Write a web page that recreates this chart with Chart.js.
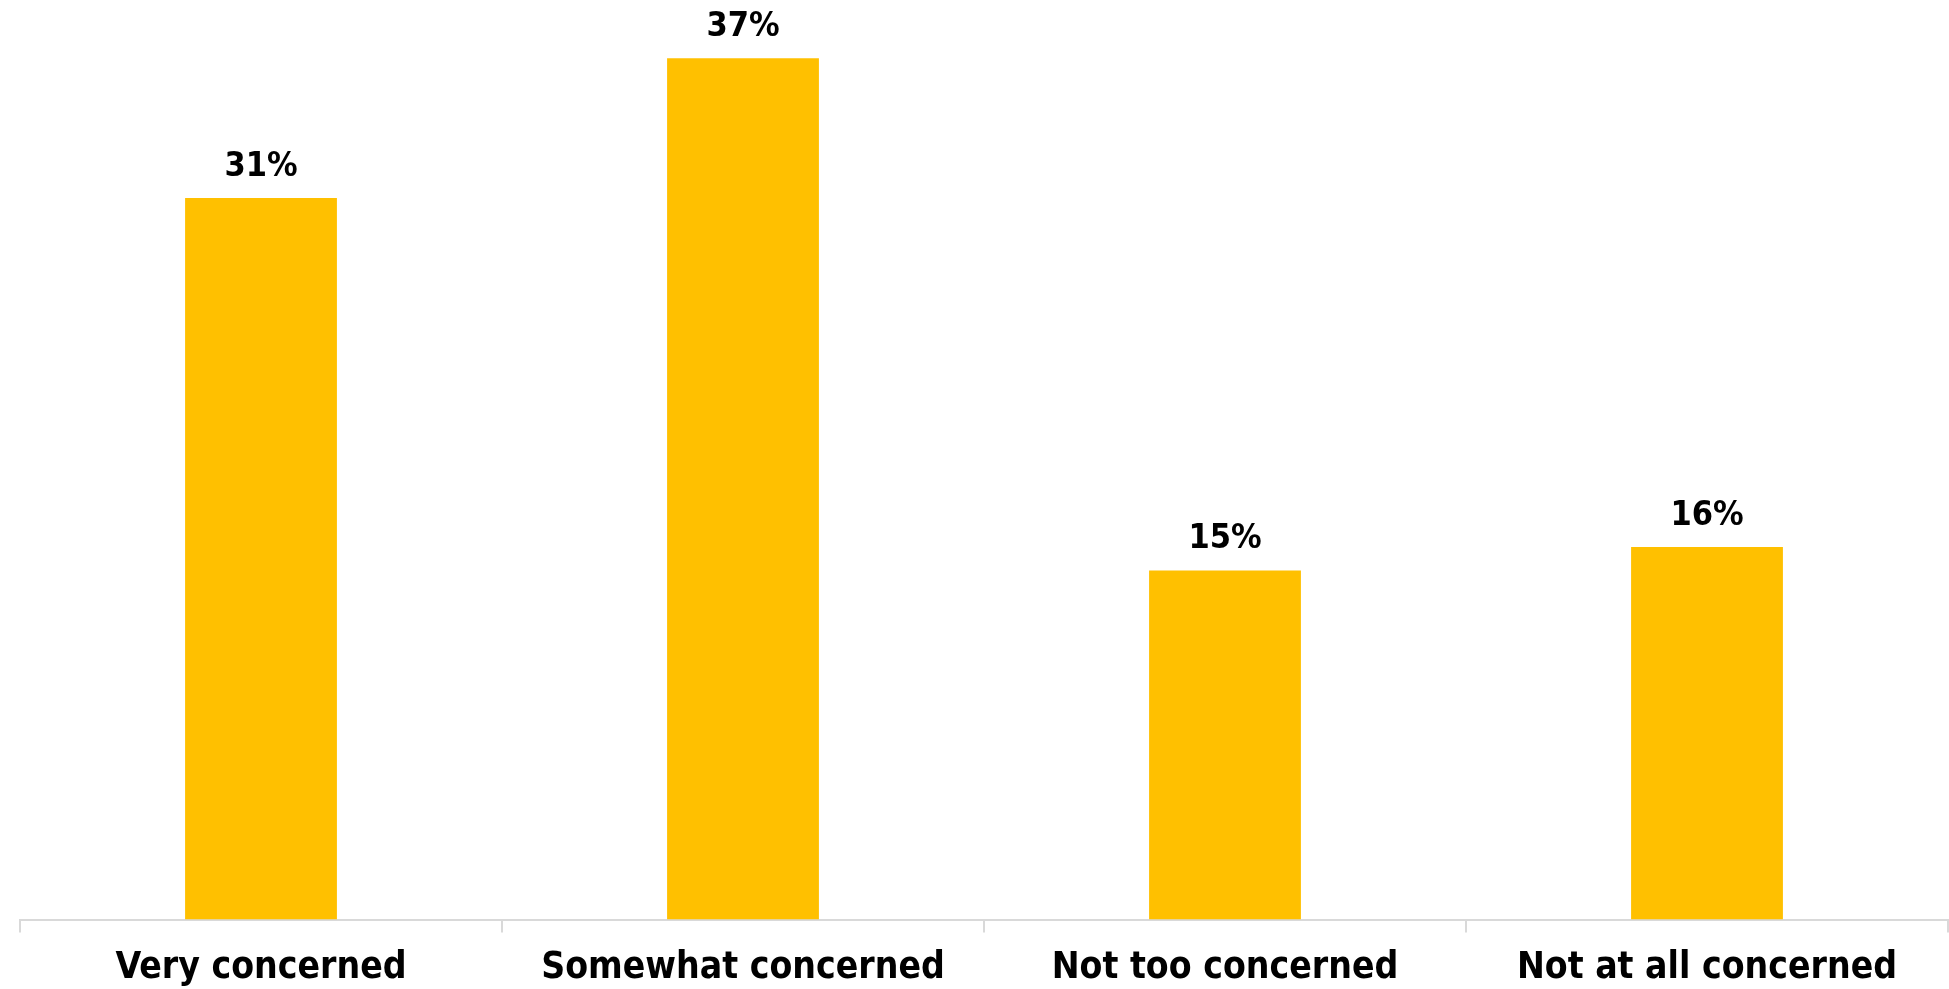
<!DOCTYPE html>
<html>
<head>
<meta charset="utf-8">
<script src="https://cdn.jsdelivr.net/npm/chart.js@4.4.1/dist/chart.umd.min.js"></script>
<style>
  html, body { margin: 0; padding: 0; background: #fff; }
  #wrap { width: 1949px; height: 989px; }
</style>
</head>
<body>
<div id="wrap"><canvas id="chart" width="1949" height="989"></canvas></div>
<script>
const categories = ["Very concerned", "Somewhat concerned", "Not too concerned", "Not at all concerned"];
const shares = [31, 37, 15, 16];
const valueLabels = ["31%", "37%", "15%", "16%"];

// draws the percent above each bar
const barLabels = {
  id: "barLabels",
  afterDatasetsDraw(chart) {
    const ctx = chart.ctx;
    const meta = chart.getDatasetMeta(0);
    ctx.save();
    ctx.fillStyle = "#000";
    ctx.font = "bold 34px 'DejaVu Sans Condensed'";
    ctx.textAlign = "center";
    ctx.textBaseline = "middle";
    meta.data.forEach((bar, i) => {
      ctx.fillText(valueLabels[i], bar.x, bar.y - 31);
    });
    ctx.restore();
  },
};

new Chart(document.getElementById("chart"), {
  type: "bar",
  data: {
    labels: categories,
    datasets: [
      {
        data: shares,
        backgroundColor: "#FFC000",
        borderWidth: 0,
        barPercentage: 0.315,
        categoryPercentage: 1,
      },
    ],
  },
  options: {
    responsive: false,
    animation: false,
    layout: { padding: { left: 20, right: 1, top: 0, bottom: -16 } },
    scales: {
      x: {
        grid: {
          offset: true,
          drawOnChartArea: false,
          color: "#d9d9d9",
          tickLength: 13,
          lineWidth: 2,
        },
        border: { color: "#d9d9d9", width: 2 },
        ticks: {
          color: "#000",
          padding: 14,
          maxRotation: 0,
          font: { family: "'DejaVu Sans Condensed'", size: 37, weight: "bold" },
        },
      },
      y: {
        display: false,
        min: 0,
        max: 39.5,
      },
    },
    plugins: {
      legend: { display: false },
      tooltip: { enabled: false },
    },
  },
  plugins: [barLabels],
});
</script>
</body>
</html>
